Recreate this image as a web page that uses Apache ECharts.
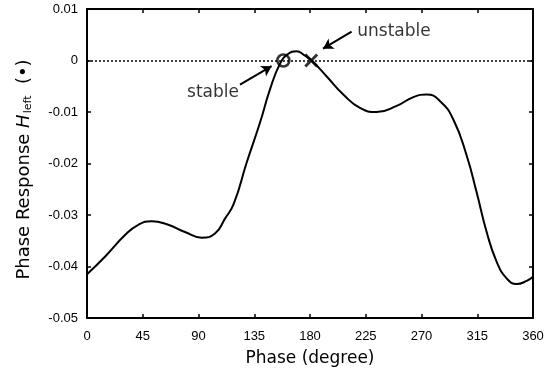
<!DOCTYPE html>
<html><head><meta charset="utf-8">
<script src="https://cdn.jsdelivr.net/npm/echarts@6/dist/echarts.min.js"></script>
<style>html,body{margin:0;padding:0;background:#fff}#c{width:552px;height:376px}</style>
</head><body><div id="c"></div>
<script>
const phaseDeg = [0, 14.5, 30.7, 41.4, 52.2, 65.6, 79.1, 92.6, 103.3, 111.4, 118.5, 128.9, 139.6, 147.7, 155.8, 162, 169.2, 175, 181.3, 193.5, 206.9, 220.3, 233.8, 250, 263.4, 274.2, 285, 295.6, 306.5, 314.5, 322.6, 330.7, 338.7, 346.8, 354.9, 360];
const response = [-0.0415, -0.0381, -0.0339, -0.0319, -0.0312, -0.0319, -0.0333, -0.0344, -0.0336, -0.0307, -0.0278, -0.0198, -0.0121, -0.0056, -0.0006, 0.0012, 0.0018, 0.0011, 0.0000, -0.0031, -0.0066, -0.0092, -0.0100, -0.0088, -0.0071, -0.0066, -0.0079, -0.0114, -0.0185, -0.0256, -0.0333, -0.0391, -0.0423, -0.0434, -0.0428, -0.0420];
const xTicks = [0, 45, 90, 135, 180, 225, 270, 315, 360];
const yTicks = [-0.05, -0.04, -0.03, -0.02, -0.01, 0, 0.01];
const stablePoint = [158.5, 0];
const unstablePoint = [181, 0];
const stableArrow = [[123.5, -0.0047], [149, -0.0011]];
const unstableArrow = [[213.6, 0.0056], [190.5, 0.0023]];
const stableLabelPos = [101.7, -0.0062];
const unstableLabelPos = [247.8, 0.0057];
const stableLabel = 'stable';
const unstableLabel = 'unstable';

const tickFont = 'Liberation Sans, Arial, sans-serif';
const nameFont = 'DejaVu Sans, sans-serif';
const chart = echarts.init(document.getElementById('c'));
const axisCommon = () => ({
  axisLine: {show: true, onZero: false, lineStyle: {color: '#000', width: 2}},
  axisTick: {show: true, inside: true, length: 4, lineStyle: {color: '#000', width: 1.5}},
  splitLine: {show: false}
});
chart.setOption({
  animation: false,
  backgroundColor: '#fff',
  grid: {left: 87, right: 19, top: 9, bottom: 58},
  xAxis: [
    Object.assign({type: 'value', min: 0, max: 360, interval: 45, position: 'bottom',
      name: 'Phase (degree)', nameLocation: 'middle', nameGap: 32,
      nameTextStyle: {fontFamily: nameFont, fontSize: 17, color: '#000'},
      axisLabel: {fontFamily: tickFont, fontSize: 13, color: '#000', margin: 12,
        formatter: v => xTicks.includes(v) ? String(v) : ''}}, axisCommon()),
    Object.assign({type: 'value', min: 0, max: 360, interval: 45, position: 'top', axisLabel: {show: false}}, axisCommon())
  ],
  yAxis: [
    Object.assign({type: 'value', min: -0.05, max: 0.01, interval: 0.01, position: 'left',
      name: '{n|Phase Response }{i|H}{s|left}{n|  (•)}{w|}', nameLocation: 'middle', nameGap: 53, nameRotate: 90,
      nameTextStyle: {rich: {
        n: {fontFamily: nameFont, fontSize: 18, color: '#000'},
        i: {fontFamily: nameFont, fontSize: 18, color: '#000', fontStyle: 'italic'},
        s: {fontFamily: nameFont, fontSize: 11, color: '#000', padding: [8, 0, 0, 1]},
        w: {width: 12}
      }},
      axisLabel: {fontFamily: tickFont, fontSize: 13, color: '#000', margin: 9, padding: [7, 0, 0, 0],
        formatter: v => { const r = Math.round(v * 100) / 100; return r === 0 ? '0' : r.toFixed(2); }}}, axisCommon()),
    Object.assign({type: 'value', min: -0.05, max: 0.01, interval: 0.01, position: 'right', axisLabel: {show: false}}, axisCommon())
  ],
  series: [
    {
      type: 'line', smooth: 0.5, symbol: 'none',
      data: phaseDeg.map((d, i) => [d, response[i]]),
      lineStyle: {color: '#000', width: 2},
      markLine: {
        silent: true, symbol: ['none', 'none'], label: {show: false},
        lineStyle: {color: '#000', type: [2, 2], width: 1.5},
        data: [{yAxis: 0}]
      }
    },
    {
      type: 'scatter', data: [stablePoint], symbol: 'circle', symbolSize: 12,
      itemStyle: {color: 'rgba(0,0,0,0)', borderColor: '#000', borderWidth: 2.5}, z: 5
    },
    {
      type: 'scatter', data: [unstablePoint],
      symbol: 'path://M0,1.5 L1.5,0 L5,3.5 L8.5,0 L10,1.5 L6.5,5 L10,8.5 L8.5,10 L5,6.5 L1.5,10 L0,8.5 L3.5,5 Z',
      symbolSize: 14, itemStyle: {color: '#000'}, z: 5
    },
    {
      type: 'line', data: [], markLine: {
        silent: true, symbol: ['none', 'arrow'], symbolSize: [9, 10], label: {show: false},
        lineStyle: {color: '#000', type: 'solid', width: 2},
        data: [
          [{coord: stableArrow[0]}, {coord: stableArrow[1]}],
          [{coord: unstableArrow[0]}, {coord: unstableArrow[1]}]
        ]
      }
    },
    {
      type: 'scatter', symbolSize: 0, data: [
        {value: stableLabelPos, label: {show: true, formatter: stableLabel}},
        {value: unstableLabelPos, label: {show: true, formatter: unstableLabel}}
      ],
      label: {position: 'inside', fontFamily: nameFont, fontSize: 17, color: '#000'}
    }
  ]
});
</script></body></html>
